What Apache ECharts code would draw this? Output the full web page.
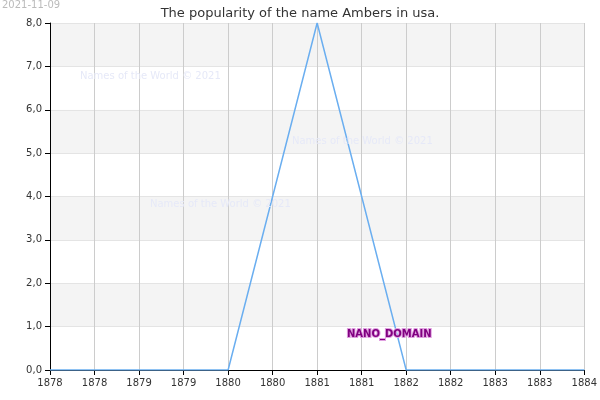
<!DOCTYPE html>
<html><head><meta charset="utf-8">
<script src="https://cdn.jsdelivr.net/npm/echarts@6/dist/echarts.min.js"></script>
<style>html,body{margin:0;padding:0;background:#fff}#c{width:600px;height:400px}</style>
</head><body><div id="c"></div>
<script>
const years = [1878, 1879, 1880, 1881, 1882, 1883, 1884];
const values = [0, 0, 0, 8, 0, 0, 0];
const title = 'The popularity of the name Ambers in usa.';
const dateLabel = '2021-11-09';
const chart = echarts.init(document.getElementById('c'));
chart.setOption({
  animation: false,
  title: {text: title, left: 'center', top: 2, textStyle: {fontFamily: 'DejaVu Sans', fontSize: 13, fontWeight: 'normal', color: '#333'}},
  grid: {left: 50, right: 15, top: 23, bottom: 30},
  xAxis: {type: 'value', min: 1878, max: 1884, interval: 0.5,
    axisLine: {lineStyle: {color: '#000'}}, axisTick: {show: true, lineStyle: {color: '#000'}},
    axisLabel: {formatter: v => String(Math.floor(v)), fontFamily: 'DejaVu Sans', fontSize: 10, color: '#333', showMaxLabel: true, showMinLabel: true},
    splitLine: {show: true, lineStyle: {color: '#ccc'}}},
  yAxis: {type: 'value', min: 0, max: 8, interval: 1,
    axisLine: {show: true, lineStyle: {color: '#000'}}, axisTick: {show: true, lineStyle: {color: '#000'}},
    axisLabel: {formatter: v => v.toFixed(1).replace('.', ','), fontFamily: 'DejaVu Sans', fontSize: 10, color: '#333'},
    splitLine: {show: true, lineStyle: {color: '#e4e4e4'}},
    splitArea: {show: true, areaStyle: {color: ['#ffffff', '#f4f4f4']}}},
  series: [{type: 'line', data: years.map((y, i) => [y, values[i]]), symbol: 'none',
    lineStyle: {color: '#6aaef0', width: 1.5}}],
  graphic: [
    {type: 'text', z: 100, left: 2, top: 0, style: {text: dateLabel, fill: '#bbb', font: '10px DejaVu Sans'}},
    {type: 'text', z: 100, left: 80, top: 71, style: {text: 'Names of the World © 2021', fill: '#e6e9f8', font: '10px DejaVu Sans'}},
    {type: 'text', z: 100, left: 292, top: 136, style: {text: 'Names of the World © 2021', fill: '#e6e9f8', font: '10px DejaVu Sans'}},
    {type: 'text', z: 100, left: 150, top: 199, style: {text: 'Names of the World © 2021', fill: '#e6e9f8', font: '10px DejaVu Sans'}},
    {type: 'text', z: 100, left: 346, top: 328, style: {text: 'NANO_DOMAIN', fill: '#800080', stroke: '#e0a0e0', lineWidth: 2, font: 'bold 10px DejaVu Sans'}}
  ]
});
</script></body></html>
